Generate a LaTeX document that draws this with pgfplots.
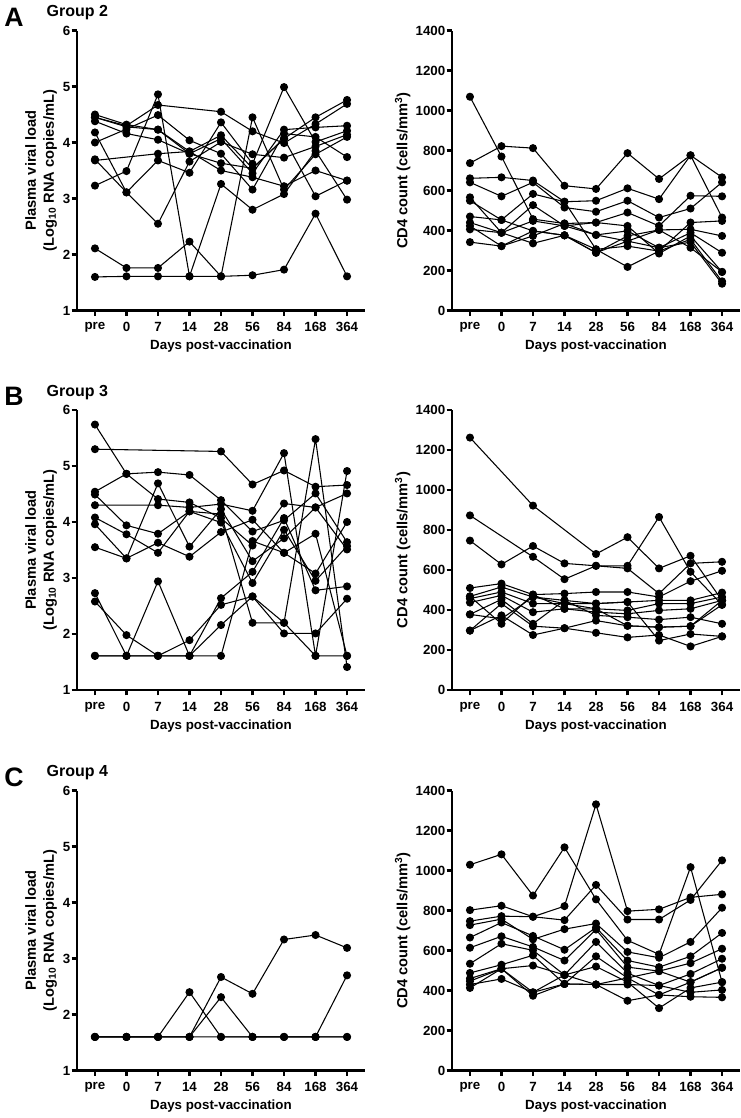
\documentclass[border=0pt]{standalone}
\usepackage{pgfplots}
\pgfplotsset{compat=1.18}
\usepackage{fontspec}
\setmainfont{Liberation Sans}
\pgfplotsset{
  prism/.style={
    scale only axis, width=216pt, height=210pt,
    axis lines*=left,
    axis line style={line width=2pt, black},
    xmin=-0.57, xmax=8.57,
    xtick={0,...,8}, xticklabels={pre,0,7,14,28,56,84,168,364},
    tick align=outside, major tick length=4pt,
    tick style={line width=1.6pt, black},
    tick label style={font=\bfseries\fontsize{10}{12}\selectfont},
    xticklabel style={yshift=-1.5pt},
    yticklabel style={xshift=2.5pt},
    /pgf/number format/assume math mode=true,
    /pgf/number format/1000 sep={},
    scaled y ticks=false,
    xlabel={Days post-vaccination},
    every axis x label/.style={at={(axis description cs:0.5,0)}, anchor=center, yshift=-27pt, font=\bfseries\fontsize{10}{12}\selectfont},
    clip=false,
  },
  vl/.style={prism, ymin=1, ymax=6, ytick={1,...,6},
    ylabel={Plasma viral load\\(Log\textsubscript{10} RNA copies/mL)},
    every axis y label/.style={at={(axis description cs:0,0.5)}, xshift=-27pt, rotate=90, anchor=center, align=center, font=\bfseries\fontsize{11}{13.5}\selectfont}},
  cd/.style={prism, ymin=0, ymax=1400, ytick={0,200,...,1400},
    ylabel={CD4 count (cells/mm\textsuperscript{3})},
    every axis y label/.style={at={(axis description cs:0,0.5)}, xshift=-37pt, rotate=90, anchor=center, font=\bfseries\fontsize{11}{13.5}\selectfont}},
  s/.style={black, line width=0.8pt, mark=*, mark size=2.6pt, mark options={fill=black, solid}},
}
\begin{document}
\begin{tikzpicture}
\useasboundingbox (0,0) rectangle (555pt,838.5pt);
% headings
\node[font=\bfseries\fontsize{20}{24}\selectfont] at (10.5pt,825.75pt) {A};
\node[anchor=west, font=\bfseries\fontsize{12}{14}\selectfont] at (31.5pt,828.75pt) {Group 2};
\node[font=\bfseries\fontsize{20}{24}\selectfont] at (10.5pt,541.1pt) {B};
\node[anchor=west, font=\bfseries\fontsize{12}{14}\selectfont] at (31.5pt,544.1pt) {Group 3};
\node[font=\bfseries\fontsize{20}{24}\selectfont] at (10.5pt,255.75pt) {C};
\node[anchor=west, font=\bfseries\fontsize{12}{14}\selectfont] at (31.5pt,258.75pt) {Group 4};

% ---------------- A left: Group 2 viral load
\begin{axis}[vl, at={(57.75pt,605.6pt)}]
\addplot[s] coordinates {(0,4.50)(1,4.32)(2,4.23)(3,3.84)(4,4.13)(5,3.54)(6,4.07)(7,4.45)(8,4.76)};
\addplot[s] coordinates {(0,4.45)(1,4.30)(2,4.67)(4,4.55)(5,4.20)(6,3.99)(7,4.33)(8,4.69)};
\addplot[s] coordinates {(0,4.38)(1,4.16)(2,4.05)(3,3.80)(4,4.07)(5,3.45)(6,4.23)(7,4.27)(8,4.30)};
\addplot[s] coordinates {(0,4.18)(1,3.11)(2,2.55)(3,3.66)(4,4.01)(5,3.79)(6,3.73)(7,3.93)(8,4.14)};
\addplot[s] coordinates {(0,4.00)(1,4.24)(2,4.49)(3,4.04)(4,3.80)(5,3.16)(6,4.16)(7,4.10)(8,3.74)};
\addplot[s] coordinates {(0,3.70)(1,3.11)(2,3.68)(3,3.46)(4,4.36)(5,3.62)(6,4.99)(7,4.01)(8,4.21)};
\addplot[s] coordinates {(0,3.68)(2,3.80)(3,3.84)(4,3.50)(5,3.38)(6,3.22)(7,3.50)(8,3.32)};
\addplot[s] coordinates {(0,3.23)(1,3.49)(2,4.86)(3,1.61)(4,3.26)(5,2.80)(6,3.08)(7,3.85)(8,2.98)};
\addplot[s] coordinates {(0,2.11)(1,1.76)(2,1.76)(3,2.23)(4,1.61)(5,4.45)(6,3.16)(7,3.79)(8,4.10)};
\addplot[s] coordinates {(0,1.60)(1,1.61)(2,1.61)(3,1.61)(4,1.61)(5,1.63)(6,1.73)(7,2.73)(8,1.61)};
\addplot[s] coordinates {(0,4.45)(1,4.28)(2,4.23)(3,3.80)(4,3.63)(5,3.54)(6,4.07)(7,3.04)(8,3.32)};
\end{axis}

% ---------------- A right: Group 2 CD4
\begin{axis}[cd, at={(339pt,605.6pt)}]
\addplot[s] coordinates {(0,1069)(1,770)(2,457)(3,435)(4,378)(5,347)(6,314)(7,342)(8,134)};
\addplot[s] coordinates {(0,737)(1,822)(2,812)(3,624)(4,608)(5,787)(6,658)(7,776)(8,666)};
\addplot[s] coordinates {(0,661)(1,666)(2,650)(3,544)(4,549)(5,611)(6,557)(7,776)(8,465)};
\addplot[s] coordinates {(0,641)(1,571)(2,641)(3,515)(4,494)(5,549)(6,465)(7,510)(8,641)};
\addplot[s] coordinates {(0,566)(1,389)(2,527)(3,423)(4,440)(5,490)(6,423)(7,574)(8,571)};
\addplot[s] coordinates {(0,549)(1,453)(2,583)(3,544)(4,306)(5,218)(6,297)(7,440)(8,448)};
\addplot[s] coordinates {(0,470)(1,453)(2,398)(3,376)(4,289)(5,373)(6,403)(7,406)(8,373)};
\addplot[s] coordinates {(0,440)(1,389)(2,448)(3,423)(4,378)(5,398)(6,314)(7,389)(8,289)};
\addplot[s] coordinates {(0,423)(1,322)(2,373)(3,435)(4,440)(5,423)(6,285)(7,373)(8,193)};
\addplot[s] coordinates {(0,406)(1,389)(2,336)(3,376)(4,306)(5,322)(6,297)(7,356)(8,146)};
\addplot[s] coordinates {(0,342)(1,322)(2,398)(3,376)(4,289)(5,347)(6,403)(7,314)(8,193)};
\end{axis}

% ---------------- B left: Group 3 viral load
\begin{axis}[vl, at={(57.75pt,321.0pt)}]
\addplot[s] coordinates {(0,5.74)(1,4.86)(2,4.41)(3,4.35)(4,4.07)(5,3.58)(6,4.33)(7,4.26)(8,4.51)};
\addplot[s] coordinates {(0,5.30)(4,5.26)(5,4.67)(6,4.92)(7,4.63)(8,4.66)};
\addplot[s] coordinates {(0,4.54)(1,4.86)(2,4.89)(3,4.84)(4,4.39)(5,3.83)(6,4.03)(7,4.51)(8,3.64)};
\addplot[s] coordinates {(0,4.49)(1,3.94)(2,3.79)(3,4.19)(4,4.14)(5,2.20)(6,2.20)(7,5.48)(8,1.41)};
\addplot[s] coordinates {(0,4.30)(2,4.30)(3,4.26)(4,4.32)(5,4.20)(6,5.23)(7,1.61)(8,4.91)};
\addplot[s] coordinates {(0,4.08)(1,3.78)(2,3.45)(3,4.19)(4,3.99)(5,2.91)(6,3.86)(7,2.95)(8,3.57)};
\addplot[s] coordinates {(0,3.96)(1,3.35)(2,3.63)(3,3.38)(4,3.82)(5,4.04)(6,3.45)(7,3.08)(8,4.00)};
\addplot[s] coordinates {(0,3.55)(1,3.35)(2,4.69)(3,3.56)(4,4.23)(5,3.30)(6,3.71)(7,4.26)(8,3.51)};
\addplot[s] coordinates {(0,2.73)(1,1.61)(2,2.94)(3,1.61)(4,2.64)(5,3.11)(6,4.07)(7,2.78)(8,2.85)};
\addplot[s] coordinates {(0,2.58)(1,1.98)(2,1.61)(3,1.89)(4,2.52)(5,2.67)(6,2.01)(7,2.01)(8,2.63)};
\addplot[s] coordinates {(0,1.61)(1,1.61)(2,1.61)(3,1.61)(4,1.61)(5,3.66)(6,3.45)(7,3.79)(8,1.61)};
\addplot[s] coordinates {(0,1.61)(1,1.61)(2,1.61)(3,1.61)(4,2.16)(5,2.67)(6,2.20)(7,1.61)(8,1.61)};
\end{axis}

% ---------------- B right: Group 3 CD4
\begin{axis}[cd, at={(339pt,321.0pt)}]
\addplot[s] coordinates {(0,1262)(2,922)(4,680)(5,764)(6,608)(7,671)(8,448)};
\addplot[s] coordinates {(0,873)(2,666)(3,554)(4,621)(5,621)(6,865)(7,591)(8,426)};
\addplot[s] coordinates {(0,747)(1,628)(2,720)(3,633)(4,621)(5,608)(6,482)(7,633)(8,641)};
\addplot[s] coordinates {(0,510)(1,532)(2,477)(3,482)(4,490)(5,490)(6,465)(7,544)(8,596)};
\addplot[s] coordinates {(0,468)(1,515)(2,465)(3,448)(4,432)(5,440)(6,448)(7,448)(8,487)};
\addplot[s] coordinates {(0,457)(1,490)(2,432)(3,432)(4,406)(5,398)(6,432)(7,432)(8,465)};
\addplot[s] coordinates {(0,437)(1,473)(2,389)(3,406)(4,389)(5,381)(6,398)(7,406)(8,448)};
\addplot[s] coordinates {(0,378)(1,453)(2,331)(3,448)(4,373)(5,364)(6,352)(7,364)(8,331)};
\addplot[s] coordinates {(0,297)(1,432)(2,319)(3,309)(4,347)(5,321)(6,314)(7,319)(8,426)};
\addplot[s] coordinates {(0,297)(1,373)(2,275)(3,309)(4,286)(5,263)(6,275)(7,218)(8,268)};
\addplot[s] coordinates {(0,378)(1,356)(2,465)(3,432)(4,432)(5,440)(6,247)(7,280)(8,268)};
\addplot[s] coordinates {(0,468)(1,331)(2,477)(3,406)(4,406)(5,321)(6,314)(7,319)(8,448)};
\end{axis}

% ---------------- C left: Group 4 viral load
\begin{axis}[vl, at={(57.75pt,35.6pt)}]
\addplot[s] coordinates {(0,1.6)(1,1.6)(2,1.6)(3,2.40)(4,1.6)(5,1.6)(6,1.6)(7,1.6)(8,1.6)};
\addplot[s] coordinates {(0,1.6)(1,1.6)(2,1.6)(3,1.6)(4,2.67)(5,2.37)(6,3.34)(7,3.42)(8,3.19)};
\addplot[s] coordinates {(0,1.6)(1,1.6)(2,1.6)(3,1.6)(4,2.31)(5,1.6)(6,1.6)(7,1.6)(8,1.6)};
\addplot[s] coordinates {(0,1.6)(1,1.6)(2,1.6)(3,1.6)(4,1.6)(5,1.6)(6,1.6)(7,1.6)(8,2.70)};
\end{axis}

% ---------------- C right: Group 4 CD4
\begin{axis}[cd, at={(339pt,35.6pt)}]
\addplot[s] coordinates {(0,1029)(1,1081)(2,875)(3,1116)(4,856)(5,651)(6,581)(7,1017)(8,442)};
\addplot[s] coordinates {(0,802)(1,824)(2,769)(3,822)(4,1331)(5,797)(6,806)(7,866)(8,881)};
\addplot[s] coordinates {(0,747)(1,772)(2,769)(3,752)(4,928)(5,755)(6,755)(7,853)(8,1051)};
\addplot[s] coordinates {(0,727)(1,757)(2,656)(3,707)(4,735)(5,593)(6,564)(7,643)(8,814)};
\addplot[s] coordinates {(0,665)(1,740)(2,673)(3,604)(4,715)(5,550)(6,517)(7,571)(8,688)};
\addplot[s] coordinates {(0,614)(1,671)(2,618)(3,550)(4,705)(5,517)(6,497)(7,537)(8,609)};
\addplot[s] coordinates {(0,534)(1,634)(2,601)(3,478)(4,643)(5,487)(6,425)(7,483)(8,559)};
\addplot[s] coordinates {(0,488)(1,529)(2,576)(3,433)(4,571)(5,463)(6,378)(7,442)(8,514)};
\addplot[s] coordinates {(0,447)(1,509)(2,525)(3,478)(4,520)(5,442)(6,312)(7,413)(8,442)};
\addplot[s] coordinates {(0,430)(1,458)(2,391)(3,433)(4,430)(5,430)(6,425)(7,391)(8,403)};
\addplot[s] coordinates {(0,413)(1,509)(2,374)(3,433)(4,430)(5,349)(6,378)(7,369)(8,366)};
\addplot[s] coordinates {(0,460)(1,509)(2,391)(3,478)(4,430)(5,463)(6,497)(7,442)(8,514)};
\end{axis}
\end{tikzpicture}
\end{document}
